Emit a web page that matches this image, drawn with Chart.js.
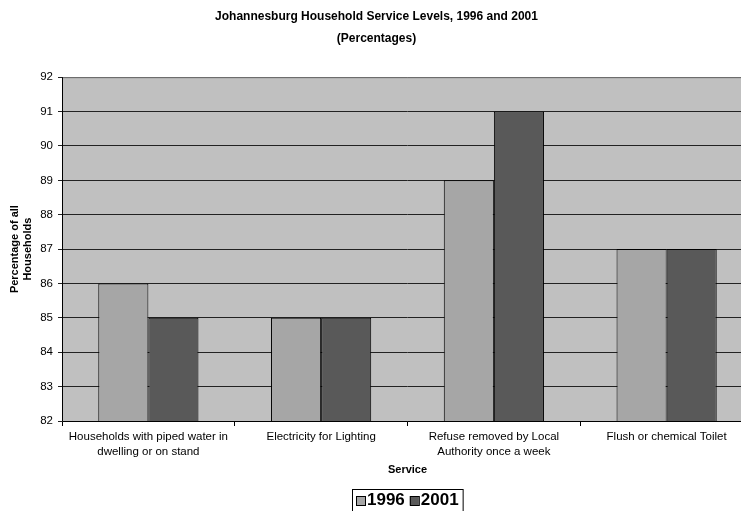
<!DOCTYPE html>
<html>
<head>
<meta charset="utf-8">
<script src="https://cdn.jsdelivr.net/npm/chart.js@4.4.1/dist/chart.umd.min.js"></script>
<style>
  html, body { margin: 0; padding: 0; background: #fff; overflow: hidden; }
  #wrap { width: 753px; height: 511px; }
</style>
</head>
<body>
<div id="wrap"><canvas id="myChart" width="753" height="511"></canvas></div>
<script>
const services = [
  ["Households with piped water in", "dwelling or on stand"],
  "Electricity for Lighting",
  ["Refuse removed by Local", "Authority once a week"],
  "Flush or chemical Toilet",
];
const values1996 = [86, 85, 89, 87];
const values2001 = [85, 85, 91, 87];
const seriesNames = ["1996", "2001"];

const font = "'Liberation Sans', Arial, sans-serif";

// grey plot area + border
const plotBg = {
  id: "plotBg",
  beforeDraw(chart) {
    const { ctx, chartArea: a } = chart;
    ctx.save();
    ctx.fillStyle = "#c0c0c0";
    ctx.fillRect(a.left, a.top, a.right - a.left, a.bottom - a.top);
    ctx.restore();
  },
  afterDraw(chart) {
    const { ctx, chartArea: a } = chart;
    ctx.save();
    ctx.strokeStyle = "#808080";
    ctx.lineWidth = 1;
    ctx.strokeRect(a.left + 0.5, a.top + 0.5, a.right - a.left, a.bottom - a.top);
    ctx.strokeStyle = "#000";
    ctx.beginPath();
    ctx.moveTo(a.left + 0.5, a.top);
    ctx.lineTo(a.left + 0.5, a.bottom + 0.5);
    ctx.lineTo(a.right, a.bottom + 0.5);
    ctx.stroke();
    ctx.restore();
  },
};

// boxed legend under the axis title, centred on the plot
const boxLegend = {
  id: "boxLegend",
  afterDraw(chart) {
    const { ctx, chartArea: a } = chart;
    ctx.save();
    ctx.font = "bold 17px " + font;
    ctx.textBaseline = "middle";
    const sq = 9, gap = 2, itemGap = 5, pad = 4;
    let total = pad * 2;
    chart.data.datasets.forEach((ds, i) => {
      total += sq + gap + ctx.measureText(ds.label).width;
      if (i > 0) total += itemGap;
    });
    const cx = (a.left + a.right) / 2;
    let x = Math.round(cx - total / 2);
    const top = 489, h = 22, cy = top + h / 2 + 0.5;
    ctx.strokeStyle = "#000";
    ctx.lineWidth = 1;
    ctx.fillStyle = "#fff";
    ctx.fillRect(x, top, total, h);
    ctx.strokeRect(x + 0.5, top + 0.5, total, h);
    x += pad;
    chart.data.datasets.forEach((ds, i) => {
      if (i > 0) x += itemGap;
      ctx.fillStyle = ds.backgroundColor;
      ctx.fillRect(x, cy - sq / 2, sq, sq);
      ctx.strokeRect(x + 0.5, cy - sq / 2 + 0.5, sq, sq);
      x += sq + gap;
      ctx.fillStyle = "#000";
      ctx.fillText(ds.label, x, cy);
      x += ctx.measureText(ds.label).width;
    });
    ctx.restore();
  },
};

const ctx = document.getElementById("myChart").getContext("2d");
const myChart = new Chart(ctx, {
  type: "bar",
  data: {
    labels: services,
    datasets: [
      {
        label: seriesNames[0],
        data: values1996,
        backgroundColor: "#a6a6a6",
        borderColor: "#000",
        borderWidth: 1,
        categoryPercentage: 0.58,
        barPercentage: 1,
      },
      {
        label: seriesNames[1],
        data: values2001,
        backgroundColor: "#595959",
        borderColor: "#000",
        borderWidth: 1,
        categoryPercentage: 0.58,
        barPercentage: 1,
      },
    ],
  },
  options: {
    responsive: false,
    animation: false,
    layout: { padding: { left: 0, right: 0, top: 0, bottom: 24 } },
    plugins: {
      legend: { display: false },
      tooltip: { enabled: false },
      title: {
        display: true,
        text: ["Johannesburg Household Service Levels, 1996 and 2001", "(Percentages)"],
        color: "#000",
        font: { family: font, size: 12, weight: "bold", lineHeight: 1.8 },
        padding: { top: 6, bottom: 28 },
      },
    },
    scales: {
      x: {
        grid: {
          drawOnChartArea: false,
          drawTicks: true,
          tickLength: 5,
          color: "#000",
        },
        border: { display: false },
        ticks: {
          color: "#000",
          font: { family: font, size: 11.5, lineHeight: 1.3 },
          padding: 3,
          maxRotation: 0,
          autoSkip: false,
        },
        title: {
          display: true,
          text: "Service",
          color: "#000",
          font: { family: font, size: 11, weight: "bold" },
          padding: { top: 4, bottom: 10 },
        },
        afterFit(scale) {
          scale.height = 66;
        },
      },
      y: {
        min: 82,
        max: 92,
        grid: {
          color: "#222",
          drawTicks: true,
          tickLength: 4,
        },
        border: { display: false },
        ticks: {
          stepSize: 1,
          color: "#000",
          font: { family: font, size: 11.5 },
          padding: 5,
        },
        title: {
          display: true,
          text: ["Percentage of all", "Households"],
          color: "#000",
          font: { family: font, size: 11, weight: "bold" },
          padding: { top: 8, bottom: 0 },
        },
        afterFit(scale) {
          scale.width = 62;
        },
      },
    },
  },
  plugins: [plotBg, boxLegend],
});
</script>
</body>
</html>
